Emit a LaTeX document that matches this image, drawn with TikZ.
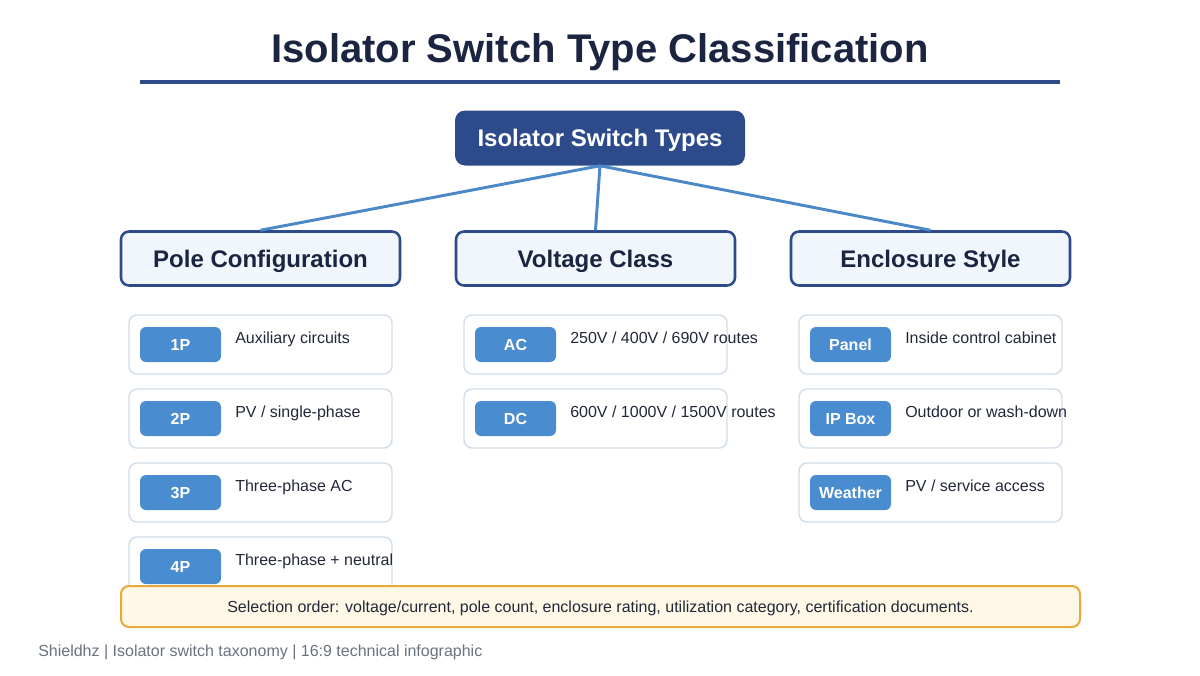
\documentclass[tikz,border=0pt]{standalone}
\usepackage{fontspec}
\setmainfont{Liberation Sans}
\definecolor{navy}{HTML}{1B2440}
\definecolor{rootblue}{HTML}{2D4A8A}
\definecolor{linkblue}{HTML}{4A88C8}
\definecolor{catfill}{HTML}{F1F6FD}
\definecolor{cardborder}{HTML}{D3DEEB}
\definecolor{badgeblue}{HTML}{4A8CD0}
\definecolor{notefill}{HTML}{FFF8E7}
\definecolor{noteborder}{HTML}{E9A93A}
\definecolor{footgray}{HTML}{6B7280}
\definecolor{desctext}{HTML}{222838}
\newcommand{\fsz}[1]{\fontsize{#1}{#1}\selectfont}
\begin{document}
\begin{tikzpicture}[x=0.75pt,y=-0.75pt,
  capbig/.style={text height=13.1pt,text depth=0pt},
  capsmall/.style={text height=8.75pt,text depth=0pt},
  titletext/.style={anchor=base,text=navy,font=\bfseries\fsz{30},inner sep=0},
  rootbox/.style={fill=rootblue,rounded corners=7.5pt,minimum width=217.5pt,minimum height=41.25pt,text=white,font=\bfseries\fsz{18},inner sep=0,capbig},
  catbox/.style={draw=rootblue,line width=1.9pt,fill=catfill,rounded corners=6pt,minimum width=209.25pt,minimum height=40.5pt,text=navy,font=\bfseries\fsz{18},inner sep=0,capbig},
  link/.style={draw=linkblue,line width=2.2pt},
  card/.style={draw=cardborder,line width=1.1pt,fill=white,rounded corners=6pt,minimum width=197.25pt,minimum height=44.25pt,inner sep=0},
  badge/.style={fill=badgeblue,rounded corners=4.5pt,minimum width=60.75pt,minimum height=26.25pt,text=white,font=\bfseries\fsz{12},inner sep=0,capsmall},
  desc/.style={anchor=base west,text=desctext,font=\fsz{12},inner sep=0},
  notebox/.style={draw=noteborder,line width=1.5pt,fill=notefill,rounded corners=6pt,minimum width=719.25pt,minimum height=30.75pt,text=desctext,font=\fsz{12},inner sep=0,capsmall},
  foot/.style={anchor=base west,text=footgray,font=\fsz{12},inner sep=0}
]
\useasboundingbox (0,0) rectangle (1200,675);
\fill[white] (0,0) rectangle (1200,675);

\node[titletext] (title) at (600,62) {Isolator Switch Type Classification};
\draw[rootblue,line width=2.3pt] (140,82) -- (1060,82);

\node[rootbox] (root) at (600,138) {Isolator Switch Types};

\node[catbox] (pole) at (260.5,258.5) {Pole Configuration};
\node[catbox] (volt) at (595.5,258.5) {Voltage Class};
\node[catbox] (encl) at (930.5,258.5) {Enclosure Style};

\draw[link] (root.south) -- (pole.north);
\draw[link] (root.south) -- (volt.north);
\draw[link] (root.south) -- (encl.north);

% Pole column
\node[card] (c1) at (260.5,344.5) {};
\node[badge] (b1) at (180.5,344.5) {1P};
\node[desc] (d1) at (235,343) {Auxiliary circuits};
\node[card] (c2) at (260.5,418.5) {};
\node[badge] (b2) at (180.5,418.5) {2P};
\node[desc] (d2) at (235,417) {PV / single-phase};
\node[card] (c3) at (260.5,492.5) {};
\node[badge] (b3) at (180.5,492.5) {3P};
\node[desc] (d3) at (235,491) {Three-phase AC};
\node[card] (c4) at (260.5,566.5) {};
\node[badge] (b4) at (180.5,566.5) {4P};
\node[desc] (d4) at (235,565) {Three-phase + neutral};

% Voltage column
\node[card] (v1) at (595.5,344.5) {};
\node[badge] (vb1) at (515.5,344.5) {AC};
\node[desc] (vd1) at (570,343) {250V / 400V / 690V routes};
\node[card] (v2) at (595.5,418.5) {};
\node[badge] (vb2) at (515.5,418.5) {DC};
\node[desc] (vd2) at (570,417) {600V / 1000V / 1500V routes};

% Enclosure column
\node[card] (e1) at (930.5,344.5) {};
\node[badge] (eb1) at (850.5,344.5) {Panel};
\node[desc] (ed1) at (905,343) {Inside control cabinet};
\node[card] (e2) at (930.5,418.5) {};
\node[badge] (eb2) at (850.5,418.5) {IP Box};
\node[desc] (ed2) at (905,417) {Outdoor or wash-down};
\node[card] (e3) at (930.5,492.5) {};
\node[badge] (eb3) at (850.5,492.5) {Weather};
\node[desc] (ed3) at (905,491) {PV / service access};

% Note
\node[notebox] (note) at (600.5,606.5) {Selection order: voltage/current, pole count, enclosure rating, utilization category, certification documents.};

\node[foot] (footer) at (38,656) {Shieldhz | Isolator switch taxonomy | 16:9 technical infographic};
\end{tikzpicture}
\end{document}
